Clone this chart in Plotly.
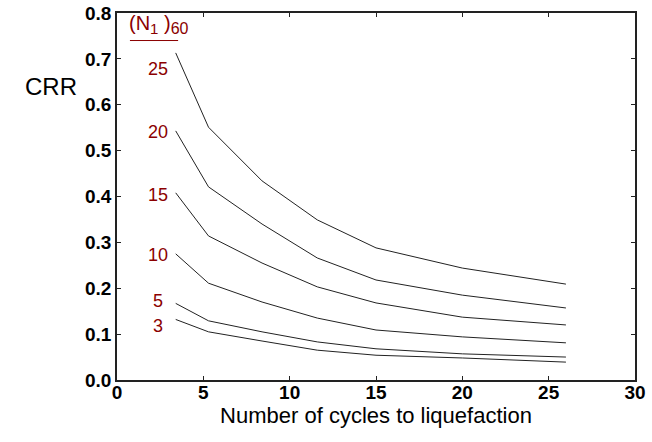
import plotly.graph_objects as go

# Number of cycles at which each curve is tabulated
cycles = [3.4, 5.3, 8.4, 11.6, 15.0, 20.0, 26.0]

# Cyclic resistance ratio for each (N1)60 blow count
n160_labels = ["25", "20", "15", "10", "5", "3"]
crr_25 = [0.713, 0.551, 0.434, 0.349, 0.288, 0.244, 0.209]
crr_20 = [0.543, 0.421, 0.340, 0.266, 0.218, 0.185, 0.157]
crr_15 = [0.408, 0.314, 0.255, 0.203, 0.168, 0.137, 0.120]
crr_10 = [0.275, 0.211, 0.170, 0.135, 0.109, 0.094, 0.081]
crr_5 = [0.167, 0.129, 0.105, 0.083, 0.068, 0.057, 0.050]
crr_3 = [0.132, 0.105, 0.085, 0.065, 0.054, 0.048, 0.039]
curves = [crr_25, crr_20, crr_15, crr_10, crr_5, crr_3]

# Where the blow-count labels sit, left of each curve
label_x = 2.37
label_y = [0.679, 0.541, 0.403, 0.272, 0.173, 0.117]

x_ticks = [0, 5, 10, 15, 20, 25, 30]
y_ticks = [0.0, 0.1, 0.2, 0.3, 0.4, 0.5, 0.6, 0.7, 0.8]

label_red = "#8b0000"
font_family = "Liberation Sans, Arial, sans-serif"

fig = go.Figure()
for name, ys in zip(n160_labels, curves):
    fig.add_trace(go.Scatter(
        x=cycles, y=ys, mode="lines", name=name,
        line=dict(color="#222222", width=1),
        showlegend=False, hoverinfo="skip",
    ))

for name, ly in zip(n160_labels, label_y):
    fig.add_annotation(
        x=label_x, y=ly, xref="x", yref="y", text=name, showarrow=False,
        font=dict(family=font_family, size=18, color=label_red),
        xanchor="center", yanchor="middle",
    )

# Heading over the labels, with its underline
fig.add_annotation(
    x=0.019, y=0.930, xref="paper", yref="paper",
    text=("(N<sub><span style='font-size:15px'>1</span></sub> )"
          "<sub><span style='font-size:16px'>60</span></sub>"),
    showarrow=False,
    font=dict(family=font_family, size=20, color=label_red),
    xanchor="left", yanchor="bottom",
)
fig.add_shape(
    type="line", xref="paper", yref="paper",
    x0=0.025, x1=0.118, y0=0.925, y1=0.925,
    line=dict(color=label_red, width=1),
)

fig.add_annotation(
    x=-0.128, y=0.80, xref="paper", yref="paper", text="CRR",
    showarrow=False, font=dict(family=font_family, size=24, color="black"),
    xanchor="center", yanchor="middle",
)

axis_common = dict(
    showline=True, linecolor="#222222", linewidth=1.5, mirror="ticks",
    ticks="inside", ticklen=4, tickwidth=1, tickcolor="#222222",
    showgrid=False, zeroline=False, automargin=False,
    tickfont=dict(family=font_family, size=19, color="black", weight="bold"),
)

fig.update_xaxes(
    range=[0, 30], tickvals=x_ticks, ticktext=[str(v) for v in x_ticks],
    ticklabelstandoff=-6,
    title=dict(text="Number of cycles to liquefaction",
               font=dict(family=font_family, size=22, color="black"),
               standoff=0),
    **axis_common,
)
fig.update_yaxes(
    range=[0, 0.8], tickvals=y_ticks, ticktext=[f"{v:.1f}" for v in y_ticks],
    **axis_common,
)

fig.update_layout(
    width=652, height=442,
    margin=dict(l=117, r=17, t=13, b=62),
    plot_bgcolor="white", paper_bgcolor="white",
)

fig.write_html("out.html")
